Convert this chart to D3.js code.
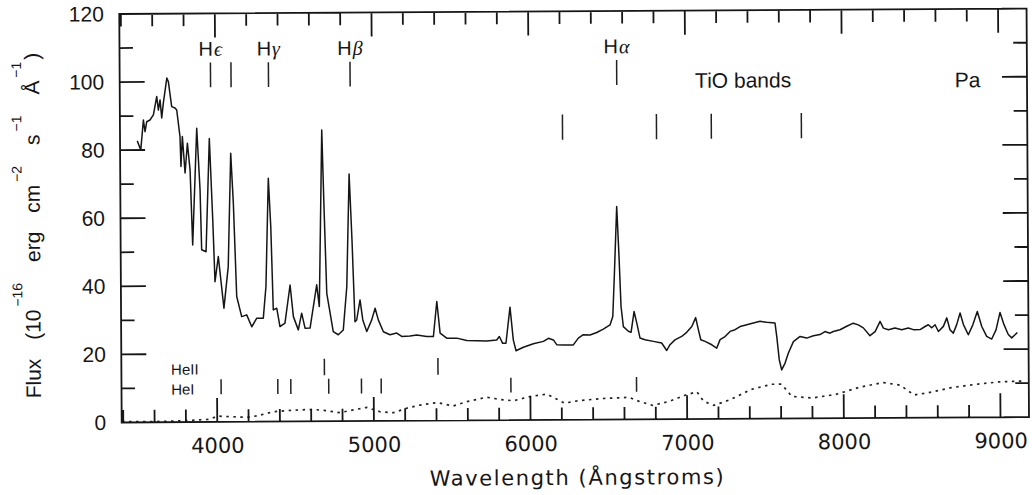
<!DOCTYPE html>
<html>
<head>
<meta charset="utf-8">
<script src="https://cdn.jsdelivr.net/npm/d3@7/dist/d3.min.js"></script>
<style>
  body { margin: 0; background: #fff; }
  svg { display: block; }
  .ytick text { font-family: "Liberation Sans", Arial, sans-serif; font-size: 21px; fill: #161616; }
  .xtick text { font-family: "DejaVu Sans", sans-serif; font-size: 21px; fill: #161616; }
  .lbl { font-family: "Liberation Sans", Arial, sans-serif; fill: #161616; }
  .greek { font-family: "Liberation Serif", "DejaVu Serif", serif; font-style: italic; }
</style>
</head>
<body>
<svg id="chart"></svg>
<script>
// observed spectrum, [wavelength in Angstrom, flux in 1e-16 erg/cm2/s/A]
const spectrum = [
  [3500,82.7],[3522,80.0],[3540,88.8],[3550,85.4],[3561,88.3],[3582,88.8],[3604,90.3],[3626,95.7],[3636,91.7],[3647,94.7],
  [3657,89.4],[3668,93.8],[3691,101.1],[3701,100.0],[3721,92.7],[3742,92.3],[3753,91.7],[3773,83.9],[3778,75.1],[3788,83.9],
  [3804,73.2],[3820,81.9],[3836,74.1],[3850,52.0],[3880,86.3],[3899,68.2],[3907,50.6],[3935,50.0],[3960,83.3],[3979,59.3],
  [3991,41.2],[4013,48.6],[4047,33.4],[4076,45.6],[4096,78.9],[4111,64.2],[4129,36.8],[4160,30.9],[4192,31.4],[4224,27.9],
  [4256,30.4],[4298,30.4],[4316,39.7],[4335,71.5],[4349,57.3],[4362,32.8],[4384,33.3],[4404,27.9],[4436,28.9],[4470,40.1],
  [4490,30.8],[4521,26.9],[4543,31.8],[4564,27.4],[4596,27.4],[4640,40.1],[4656,33.7],[4678,85.6],[4690,62.1],[4704,37.6],
  [4744,26.3],[4776,25.4],[4808,26.8],[4832,39.5],[4851,72.6],[4867,53.2],[4883,29.2],[4894,29.7],[4916,35.6],[4933,29.7],
  [4958,26.3],[4990,29.7],[5012,33.1],[5032,29.7],[5064,26.2],[5106,25.3],[5149,25.8],[5181,24.8],[5234,24.9],[5277,25.2],
  [5340,24.7],[5383,24.7],[5406,35.0],[5426,25.7],[5468,24.2],[5532,24.2],[5596,23.5],[5659,23.4],[5723,23.3],[5787,23.6],
  [5804,24.6],[5825,22.6],[5846,22.6],[5873,33.2],[5893,23.6],[5910,20.4],[5957,21.4],[6021,22.4],[6085,23.1],[6117,24.0],
  [6149,23.5],[6170,22.1],[6212,22.0],[6276,22.0],[6308,24.0],[6340,25.0],[6383,24.9],[6426,25.6],[6468,26.6],[6511,27.8],
  [6529,30.3],[6541,43.0],[6558,62.6],[6571,47.9],[6582,33.2],[6596,27.3],[6628,25.9],[6645,25.6],[6665,31.7],[6682,28.3],
  [6702,23.9],[6734,23.4],[6787,22.9],[6840,22.4],[6872,20.2],[6893,21.9],[6925,23.3],[6968,24.3],[7000,25.5],[7033,27.2],
  [7058,29.8],[7075,26.2],[7090,23.3],[7117,22.8],[7160,21.8],[7191,20.8],[7213,23.3],[7245,24.2],[7277,25.7],[7309,26.2],
  [7341,27.1],[7384,27.6],[7426,28.1],[7469,28.6],[7511,28.3],[7564,28.1],[7575,24.1],[7590,17.3],[7605,14.3],[7627,16.3],
  [7648,19.2],[7681,22.6],[7724,24.1],[7766,23.6],[7809,24.3],[7851,24.6],[7883,25.5],[7915,25.0],[7936,25.5],[7979,26.0],
  [8022,27.0],[8064,27.9],[8096,27.4],[8128,26.5],[8170,24.2],[8203,25.4],[8235,28.4],[8256,26.4],[8288,25.9],[8330,26.4],
  [8373,25.9],[8415,26.4],[8447,25.9],[8490,25.9],[8522,26.8],[8543,27.3],[8565,26.4],[8586,27.3],[8607,25.3],[8639,26.8],
  [8661,29.3],[8681,25.8],[8702,24.8],[8724,27.3],[8746,30.7],[8767,27.3],[8798,24.3],[8827,27.2],[8856,31.1],[8884,26.7],
  [8915,23.8],[8947,23.0],[8975,25.7],[9001,30.8],[9026,27.2],[9053,24.3],[9075,23.3],[9096,24.2],[9111,24.9]
];

// comparison spectrum (dotted)
const template = [
  [3392,0.3],[3592,0.2],[3783,0.4],[3954,0.8],[4000,1.7],[4102,1.5],[4188,1.3],[4252,1.7],[4358,2.9],[4444,3.2],
  [4529,3.4],[4614,3.5],[4699,3.1],[4784,2.5],[4869,3.3],[4955,4.0],[5040,2.7],[5125,2.4],[5210,3.7],[5295,4.6],
  [5402,5.3],[5508,4.3],[5593,5.5],[5721,6.8],[5806,6.1],[5891,5.7],[5998,6.9],[6104,7.6],[6152,6.5],[6217,4.9],
  [6304,5.6],[6456,6.2],[6629,6.5],[6694,5.3],[6780,4.1],[6889,5.3],[6998,7.2],[7063,8.0],[7106,5.2],[7171,4.0],
  [7278,5.7],[7409,8.6],[7540,10.1],[7604,10.1],[7669,6.5],[7799,6.0],[7951,7.0],[8103,9.1],[8254,10.4],[8362,9.6],
  [8449,6.7],[8536,7.3],[8688,8.8],[8840,9.7],[8991,10.4],[9143,10.6]
];

const xTicks = [4000, 5000, 6000, 7000, 8000, 9000];
const yTicks = [0, 20, 40, 60, 80, 100, 120];

// line identifications
const balmerWl = [3970, 4101, 4340, 4861, 6563];
const balmerGreek = ["\u03f5", "", "\u03b3", "\u03b2", "\u03b1"];
const tioWl = [6215, 6815, 7165, 7740];
const heIIWl = [4686, 5411];
const heIWl = [4026, 4388, 4471, 4713, 4922, 5048, 5876, 6678];

const W = 1032, H = 495;
const frame = { left: 121.7, top: 14, right: 1029, bottom: 422.5 };
const width = frame.right - frame.left, height = frame.bottom - frame.top;
const ink = "#161616";

const svg = d3.select("#chart").attr("width", W).attr("height", H);
svg.append("rect").attr("width", W).attr("height", H).attr("fill", "#fff");

// the scanned figure sits slightly tilted on the page
const chart = svg.append("g")
  .attr("transform", `rotate(-0.34, ${frame.left}, ${frame.bottom}) translate(${frame.left},${frame.top})`);

const x = d3.scaleLinear().domain([3390, 9182]).range([0, width]);
const y = d3.scaleLinear().domain([0, 120]).range([height, 0]);

const xMinor = d3.range(3400, 9200, 200).filter(v => v % 1000 !== 0);
const yMinor = d3.range(10, 120, 20);

// tick labels from d3 axes
chart.append("g").attr("class", "xtick").attr("transform", `translate(0,${height})`)
  .call(d3.axisBottom(x).tickValues(xTicks).tickSize(0).tickPadding(16).tickFormat(d3.format("d")))
  .call(g => g.select(".domain").remove());
chart.append("g").attr("class", "ytick")
  .call(d3.axisLeft(y).tickValues(yTicks).tickSize(0).tickPadding(15.5))
  .call(g => g.select(".domain").remove());

// frame and inward ticks on all four sides, as one path
const p = d3.path();
p.rect(0, 0, width, height);
function xt(vals, len) {
  vals.forEach(v => {
    p.moveTo(x(v), height); p.lineTo(x(v), height - len);
    p.moveTo(x(v), 0); p.lineTo(x(v), len);
  });
}
function yt(vals, len) {
  vals.forEach(v => {
    p.moveTo(0, y(v)); p.lineTo(len, y(v));
    p.moveTo(width, y(v)); p.lineTo(width - len, y(v));
  });
}
xt(xMinor, 12.5);
xt(xTicks, 24);
yt(yMinor, 13.5);
yt(yTicks, 25);

const line = d3.line().x(d => x(d[0])).y(d => y(d[1]));

chart.append("path").datum(template)
  .attr("d", line)
  .attr("fill", "none").attr("stroke", "#222")
  .attr("stroke-width", 1.7).attr("stroke-dasharray", "2.5,4.5");

chart.append("path").datum(spectrum)
  .attr("d", line)
  .attr("fill", "none").attr("stroke", "#151515")
  .attr("stroke-width", 1.5).attr("stroke-linejoin", "round");

chart.append("path")
  .attr("d", p.toString())
  .attr("fill", "none").attr("stroke", ink).attr("stroke-width", 1.8);

// identification marks
function marks(wls, lo, hi) {
  chart.append("g").selectAll("line").data(wls).join("line")
    .attr("x1", d => x(d)).attr("x2", d => x(d))
    .attr("y1", y(lo)).attr("y2", y(hi))
    .attr("stroke", "#222").attr("stroke-width", 1.5);
}
marks(balmerWl, 98.3, 105.6);
marks(tioWl, 82.3, 89.7);
marks(heIIWl, 13.5, 18.4);
marks(heIWl, 8.1, 12.5);

const bl = chart.append("g").selectAll("text")
  .data(balmerWl.map((w, i) => ({ w, g: balmerGreek[i] })).filter(d => d.g))
  .join("text")
  .attr("class", "lbl")
  .attr("x", d => x(d.w)).attr("y", y(107.6))
  .attr("text-anchor", "middle")
  .style("font-size", "20px");
bl.append("tspan").text("H");
bl.append("tspan").attr("class", "greek").attr("dx", 1).text(d => d.g);

chart.append("text").attr("class", "lbl")
  .attr("x", x(7370)).attr("y", y(97.3)).attr("text-anchor", "middle")
  .style("font-size", "21px").text("TiO bands");
chart.append("text").attr("class", "lbl")
  .attr("x", x(8802)).attr("y", y(97)).attr("text-anchor", "middle")
  .style("font-size", "21px").text("Pa");

chart.append("text").attr("class", "lbl")
  .attr("x", x(3707)).attr("y", y(13.95))
  .style("font-size", "15px").text("HeII");
chart.append("text").attr("class", "lbl")
  .attr("x", x(3707)).attr("y", y(8.1))
  .style("font-size", "15px").text("HeI");

// axis titles
chart.append("text")
  .attr("x", width / 2 + 1).attr("y", height + 65)
  .attr("text-anchor", "middle")
  .attr("textLength", 294).attr("lengthAdjust", "spacing")
  .style("font-family", "'DejaVu Sans', sans-serif").style("font-size", "21px")
  .attr("fill", ink)
  .text("Wavelength (\u00c5ngstroms)");

const yl = chart.append("text")
  .attr("class", "lbl")
  .attr("transform", `translate(-80.6,211) rotate(-90)`)
  .attr("text-anchor", "middle")
  .style("font-size", "21px").style("word-spacing", "13px");
const parts = [
  ["Flux (10", 0], ["\u221216", 1], [" erg cm", 0], ["\u22122", 1], [" s", 0], ["\u22121", 1], [" \u00c5", 0], ["\u22121", 1], [")", 0]
];
let raised = false;
parts.forEach(([t, sup]) => {
  const ts = yl.append("tspan").text(t);
  if (sup && !raised) { ts.attr("dy", -18).attr("dx", 3).style("font-size", "14px"); raised = true; }
  else if (!sup && raised) { ts.attr("dy", 18).attr("dx", 2); raised = false; }
});
</script>
</body>
</html>
